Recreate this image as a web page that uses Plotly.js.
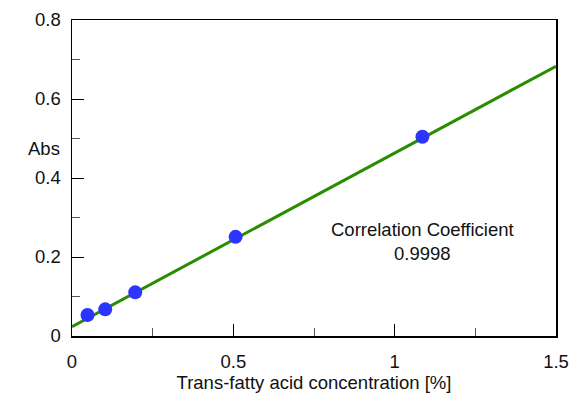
<!DOCTYPE html>
<html>
<head>
<meta charset="utf-8">
<script src="https://cdn.plot.ly/plotly-3.0.1.min.js"></script>
<style>html,body{margin:0;padding:0;background:#fff;}#chart{width:570px;height:393px;}</style>
</head>
<body>
<div id="chart"></div>
<script>
var concX = [0.048, 0.103, 0.196, 0.507, 1.086];
var absY = [0.053, 0.0675, 0.1105, 0.251, 0.5046];
var fitX = [0, 1.5];
var fitY = [0.0236, 0.683];
var xTicks = [0, 0.5, 1, 1.5];
var xTickText = ["0", "0.5", "1", "1.5"];
var yTicks = [0, 0.2, 0.4, 0.6, 0.8];
var yTickText = ["0", "0.2", "0.4", "0.6", "0.8"];
var noteText = "Correlation Coefficient<br>0.9998";

var font = {family: "Liberation Sans, Arial, sans-serif", size: 18.5, color: "#111"};

var traces = [
  {x: fitX, y: fitY, mode: "lines", line: {color: "#2a8c00", width: 3}, hoverinfo: "skip"},
  {x: concX, y: absY, mode: "markers", marker: {color: "#2b35ff", size: 14}}
];

var layout = {
  width: 570, height: 393,
  margin: {l: 72, r: 14, t: 20, b: 57},
  paper_bgcolor: "#fff", plot_bgcolor: "#fff",
  showlegend: false,
  font: font,
  xaxis: {
    range: [0, 1.5], tickvals: xTicks, ticktext: xTickText,
    ticks: "inside", ticklen: 12, tickwidth: 1, tickcolor: "#000",
    minor: {dtick: 0.25, ticks: "inside", ticklen: 8, tickcolor: "#555", tickwidth: 1, showgrid: false},
    showline: true, linecolor: "#000", linewidth: 1.5, mirror: true,
    showgrid: false, zeroline: false,
    tickfont: font, ticklabelstandoff: 8,
    title: {text: "Trans-fatty acid concentration [%]", font: font, standoff: 6}
  },
  yaxis: {
    range: [0, 0.8], tickvals: yTicks, ticktext: yTickText,
    ticks: "inside", ticklen: 12, tickwidth: 1, tickcolor: "#000",
    minor: {dtick: 0.1, ticks: "inside", ticklen: 8, tickcolor: "#555", tickwidth: 1, showgrid: false},
    showline: true, linecolor: "#000", linewidth: 1.5, mirror: true,
    showgrid: false, zeroline: false,
    tickfont: font, ticklabelstandoff: 6
  },
  annotations: [
    {x: 1.087, y: 0.238, xref: "x", yref: "y", text: noteText, showarrow: false, font: font, align: "center"},
    {x: 0, y: 0, xref: "paper", yref: "paper", text: "Abs", showarrow: false, font: font}
  ]
};
layout.annotations[1].x = (26 - 72) / (570 - 72 - 14);
layout.annotations[1].y = (393 - 57 - 148) / (393 - 57 - 20);

Plotly.newPlot("chart", traces, layout, {displayModeBar: false, staticPlot: true});
</script>
</body>
</html>
